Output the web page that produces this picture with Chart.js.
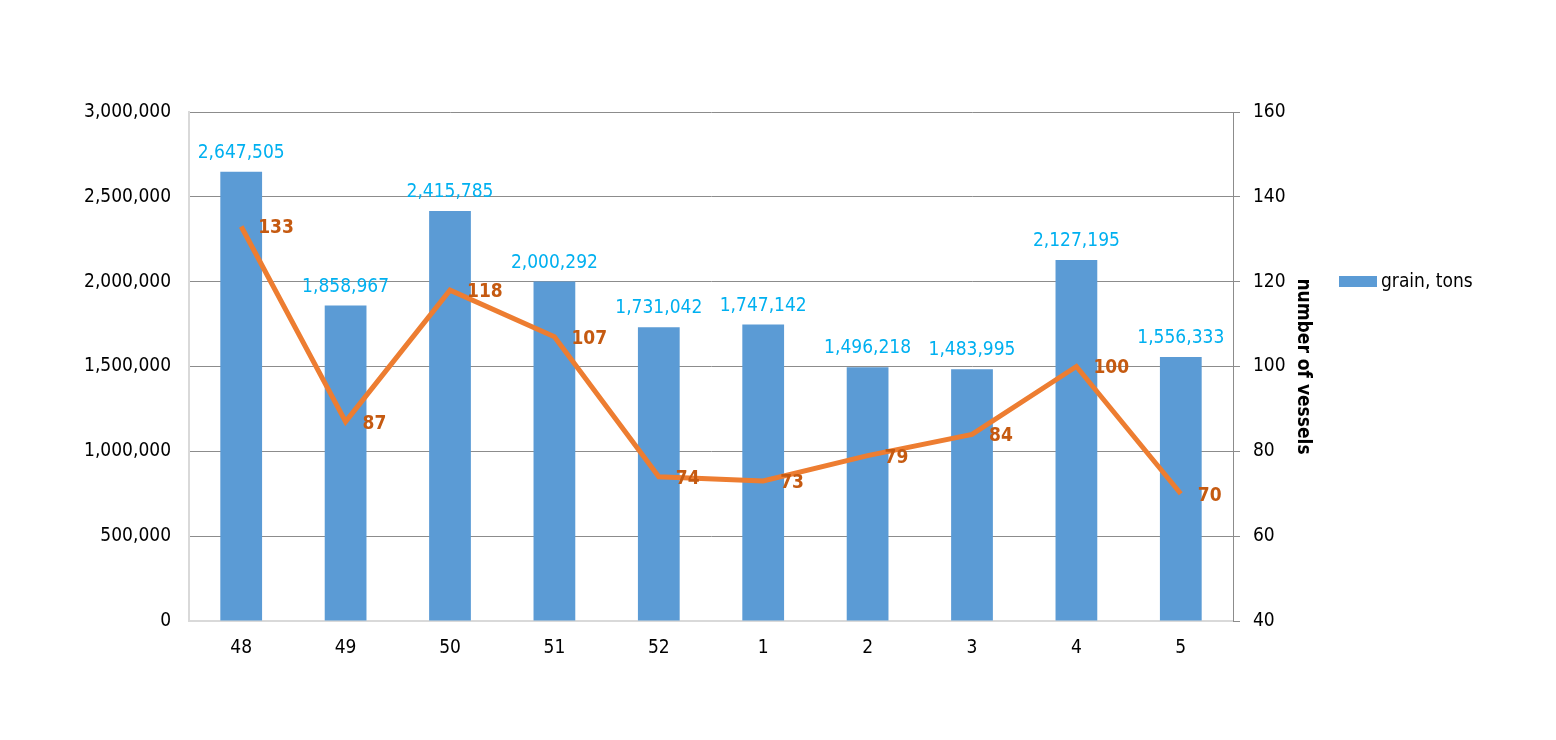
<!DOCTYPE html>
<html>
<head>
<meta charset="utf-8">
<script src="https://cdn.jsdelivr.net/npm/chart.js@4.4.1/dist/chart.umd.min.js"></script>
<style>
html,body{margin:0;padding:0;background:#fff;}
#wrap{width:1556px;height:740px;}
</style>
</head>
<body>
<div id="wrap"><canvas id="c" width="1556" height="740"></canvas></div>
<script>
const weeks = ['48','49','50','51','52','1','2','3','4','5'];
const grainTons = [2647505,1858967,2415785,2000292,1731042,1747142,1496218,1483995,2127195,1556333];
const vessels = [133,87,118,107,74,73,79,84,100,70];
const grainLabel = 'grain, tons';
const vesselsTitle = 'number of vessels';
const leftTicks = {min:0, max:3000000, step:500000};
const rightTicks = {min:40, max:160, step:20};

const FONT = "'DejaVu Sans Condensed', 'DejaVu Sans', Verdana, sans-serif";
const FS = 19;
const fmt = v => v.toLocaleString('en-US');

const labelPlugin = {
  id: 'valueLabels',
  afterDatasetsDraw(chart) {
    const ctx = chart.ctx;
    ctx.save();
    const barMeta = chart.getDatasetMeta(0);
    ctx.font = FS + "px " + FONT;
    ctx.fillStyle = '#00B0F0';
    ctx.textAlign = 'center';
    ctx.textBaseline = 'middle';
    barMeta.data.forEach((el, i) => {
      ctx.fillText(fmt(grainTons[i]), el.x, el.y - 19);
    });
    const lineMeta = chart.getDatasetMeta(1);
    ctx.font = "bold " + FS + "px " + FONT;
    ctx.fillStyle = '#C55A11';
    ctx.textAlign = 'left';
    lineMeta.data.forEach((el, i) => {
      ctx.fillText(String(vessels[i]), el.x + 17, el.y + 2);
    });
    ctx.restore();
  },
  afterDraw(chart) {
    const ctx = chart.ctx;
    ctx.save();
    ctx.fillStyle = '#5B9BD5';
    ctx.fillRect(1339, 276, 38, 11);
    ctx.fillStyle = '#000';
    ctx.font = FS + "px " + FONT;
    ctx.textAlign = 'left';
    ctx.textBaseline = 'middle';
    ctx.fillText(chart.data.datasets[0].label, 1381, 282);
    ctx.restore();
  }
};

new Chart(document.getElementById('c'), {
  data: {
    labels: weeks,
    datasets: [
      {
        type: 'bar',
        label: grainLabel,
        data: grainTons,
        backgroundColor: '#5B9BD5',
        yAxisID: 'y',
        categoryPercentage: 1,
        barPercentage: 0.4,
        order: 2
      },
      {
        type: 'line',
        label: vesselsTitle,
        data: vessels,
        borderColor: '#ED7D31',
        backgroundColor: '#ED7D31',
        borderWidth: 5,
        pointRadius: 0,
        tension: 0,
        yAxisID: 'y1',
        order: 1
      }
    ]
  },
  options: {
    responsive: false,
    animation: false,
    devicePixelRatio: 1,
    layout: { padding: { left: 0, right: 1556 - 1233 - 83, top: 112, bottom: 0 } },
    plugins: {
      legend: { display: false },
      tooltip: { enabled: false }
    },
    scales: {
      x: {
        grid: { display: false, drawTicks: false },
        border: { display: true, color: '#D9D9D9', width: 2 },
        ticks: { color: '#000', font: { family: FONT, size: FS }, padding: 16, maxRotation: 0 },
        afterFit(s) { s.height = 740 - 621; }
      },
      y: {
        position: 'left',
        min: leftTicks.min, max: leftTicks.max,
        ticks: { stepSize: leftTicks.step, color: '#000', font: { family: FONT, size: FS }, padding: 18,
                 callback: v => fmt(v) },
        grid: { color: '#8C8C8C', lineWidth: 1, drawTicks: false },
        border: { display: true, color: '#D9D9D9', width: 2 },
        afterFit(s) { s.width = 189; }
      },
      y1: {
        position: 'right',
        min: rightTicks.min, max: rightTicks.max,
        ticks: { stepSize: rightTicks.step, color: '#000', font: { family: FONT, size: FS }, padding: 13 },
        grid: { drawOnChartArea: false, drawTicks: true, tickLength: 7, color: '#8C8C8C' },
        border: { display: true, color: '#8C8C8C', width: 1 },
        title: { display: true, text: vesselsTitle, color: '#000', font: { family: FONT, size: FS, weight: 'bold' }, padding: 2 },
        afterFit(s) { s.width = 83; }
      }
    }
  },
  plugins: [labelPlugin]
});
</script>
</body>
</html>
